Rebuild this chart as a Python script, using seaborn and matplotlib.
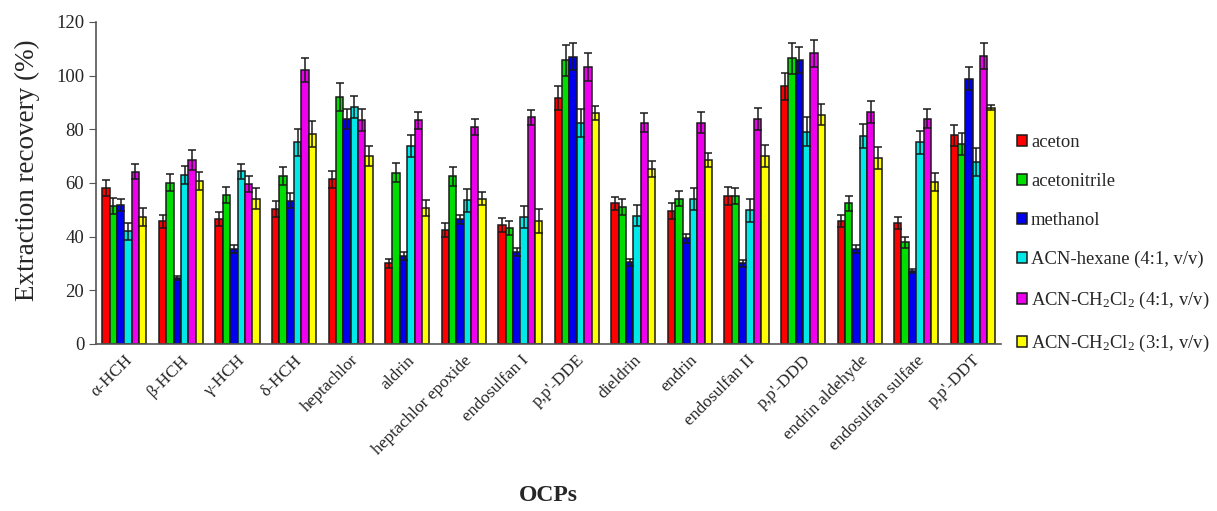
import numpy as np
import pandas as pd
import matplotlib
matplotlib.use("Agg")
import matplotlib.pyplot as plt
import seaborn as sns

# Data
compounds = [
    "α-HCH", "β-HCH", "γ-HCH", "δ-HCH", "heptachlor", "aldrin",
    "heptachlor epoxide", "endosulfan I", "p,p'-DDE", "dieldrin", "endrin",
    "endosulfan II", "p,p'-DDD", "endrin aldehyde", "endosulfan sulfate", "p,p'-DDT"
]

solvents = [
    "aceton",
    "acetonitrile",
    "methanol",
    "ACN-hexane (4:1, v/v)",
    "ACN-CH$_2$Cl$_2$ (4:1, v/v)",
    "ACN-CH$_2$Cl$_2$ (3:1, v/v)",
]

aceton = [58.0, 45.7, 46.6, 50.2, 61.3, 30.1, 42.5, 44.3, 91.7, 52.4, 49.4, 55.2, 96.0, 45.8, 45.2, 77.7]
acetonitrile = [51.4, 60.1, 55.4, 62.5, 91.9, 63.8, 62.5, 43.2, 105.8, 51.0, 54.1, 55.2, 106.5, 52.4, 37.9, 74.6]
methanol = [51.8, 24.6, 35.4, 53.4, 83.8, 32.8, 46.5, 34.2, 107.1, 30.5, 39.3, 30.0, 105.8, 35.3, 27.2, 98.9]
acn_hexane = [41.9, 63.0, 64.3, 75.1, 88.2, 73.7, 53.5, 47.3, 82.4, 47.8, 54.1, 49.8, 79.0, 77.5, 75.1, 67.7]
acn_dcm_41 = [64.2, 68.6, 59.7, 102.0, 83.5, 83.3, 80.9, 84.4, 103.2, 82.5, 82.5, 84.0, 108.3, 86.5, 84.0, 107.4]
acn_dcm_31 = [47.4, 60.7, 54.1, 78.2, 70.1, 50.7, 54.1, 45.9, 86.0, 65.3, 68.4, 70.1, 85.5, 69.4, 60.4, 88.1]

err_aceton = [3.0, 2.5, 2.5, 3.0, 3.1, 1.7, 2.5, 2.5, 4.6, 2.5, 3.0, 3.4, 5.0, 2.4, 2.2, 3.8]
err_acetonitrile = [3.0, 3.2, 3.0, 3.3, 5.2, 3.6, 3.5, 2.5, 5.8, 2.9, 2.8, 3.0, 5.8, 2.8, 2.0, 4.1]
err_methanol = [2.3, 0.7, 1.5, 2.7, 3.8, 1.6, 1.7, 1.6, 5.0, 1.3, 1.7, 1.2, 4.8, 1.5, 0.8, 4.3]
err_acn_hexane = [3.3, 3.4, 2.8, 4.9, 4.1, 4.0, 4.2, 4.2, 5.1, 4.0, 4.1, 4.3, 5.4, 4.5, 4.3, 5.3]
err_acn_dcm_41 = [2.7, 3.6, 3.0, 4.5, 4.0, 3.1, 3.1, 2.8, 5.1, 3.6, 3.9, 4.1, 5.1, 4.1, 3.4, 4.9]
err_acn_dcm_31 = [3.4, 3.5, 4.0, 4.8, 3.7, 2.9, 2.5, 4.5, 2.6, 3.0, 2.6, 4.0, 3.9, 4.1, 3.4, 1.0]

colors = ["#ff0000", "#00dd00", "#0000ee", "#00e8e8", "#ee00ee", "#ffff00"]

values = [aceton, acetonitrile, methanol, acn_hexane, acn_dcm_41, acn_dcm_31]
errors = [err_aceton, err_acetonitrile, err_methanol, err_acn_hexane, err_acn_dcm_41, err_acn_dcm_31]

rows = []
for s, vals in zip(solvents, values):
    for c, v in zip(compounds, vals):
        rows.append({"compound": c, "solvent": s, "recovery": v})
df = pd.DataFrame(rows)

# Style
sns.set_style("ticks")
plt.rcParams["font.family"] = ["Liberation Serif", "DejaVu Serif"]
plt.rcParams["mathtext.fontset"] = "custom"
plt.rcParams["mathtext.rm"] = "Liberation Serif"
plt.rcParams["mathtext.it"] = "Liberation Serif:italic"

fig = plt.figure(figsize=(12.17, 5.11), dpi=100)
ax = fig.add_axes([0.079, 0.327, 0.7435, 0.630])

sns.barplot(
    data=df,
    x="compound",
    y="recovery",
    hue="solvent",
    hue_order=solvents,
    order=compounds,
    palette=colors,
    saturation=1,
    width=0.78,
    edgecolor="#1a1a1a",
    linewidth=1.1,
    errorbar=None,
    ax=ax,
)

# Error bars on each bar
for cont, errs in zip(ax.containers, errors):
    xs = [b.get_x() + b.get_width() / 2 for b in cont]
    ys = [b.get_height() for b in cont]
    ax.errorbar(xs, ys, yerr=errs, fmt="none", ecolor="#1a1a1a",
                elinewidth=1.1, capsize=3, capthick=1.1)

ax.set_ylim(0, 120)
ax.set_yticks(range(0, 121, 20))
ax.set_xlim(-0.5, len(compounds) - 0.5)
ax.tick_params(axis="y", labelsize=13.5, direction="out", length=5, color="#555555")
ax.tick_params(axis="x", length=0, labelsize=12.5, pad=6)
plt.setp(ax.get_xticklabels(), rotation=45, ha="right", rotation_mode="anchor")

ax.set_ylabel("Extraction recovery (%)", fontsize=19.5)
ax.yaxis.set_label_coords(-0.062, 0.54)
ax.set_xlabel("OCPs", fontsize=17, fontweight="bold", labelpad=20)

sns.despine(ax=ax)
ax.spines["left"].set_color("#555555")
ax.spines["bottom"].set_color("#555555")
ax.spines["left"].set_linewidth(1.2)
ax.spines["bottom"].set_linewidth(1.2)

ax.legend(
    title=None,
    loc="center left",
    bbox_to_anchor=(1.0177, 0.31),
    frameon=False,
    fontsize=13.4,
    handlelength=0.55,
    handleheight=0.55,
    handletextpad=0.2,
    labelspacing=1.18,
    borderaxespad=0,
    borderpad=0,
)

plt.savefig("out.png", dpi=100)
